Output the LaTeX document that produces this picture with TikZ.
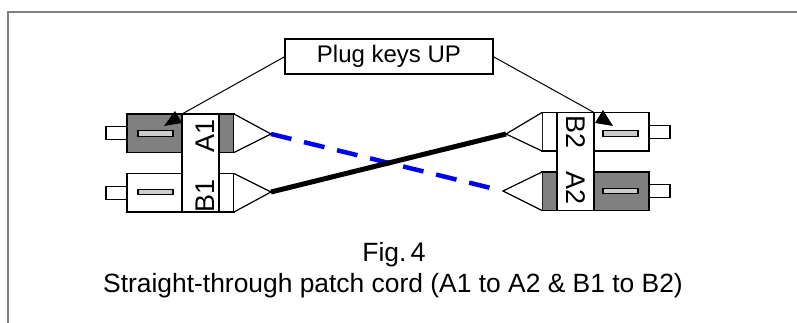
\documentclass[tikz,border=0pt]{standalone}
\usepackage{fontspec}
\setmainfont{Liberation Sans}
\usepackage{xcolor}
\usetikzlibrary{arrows.meta, positioning}
\definecolor{framegray}{gray}{0.5}
\definecolor{keygray}{gray}{0.5}
\definecolor{slotgray}{gray}{0.8}
\definecolor{cordblue}{rgb}{0,0,0.95}

\begin{document}
\begin{tikzpicture}[
        x=1pt, y=-1pt,
        node distance=0pt and 0pt,
        part/.style={rectangle, draw, inner sep=0pt, outer sep=0pt, line width=1.2pt},
        body/.style={part, minimum width=55pt, minimum height=38.5pt},
        pin/.style={part, minimum width=21pt, minimum height=13pt},
        slot/.style={part, fill=slotgray, minimum width=35pt, minimum height=5.5pt},
        sleeve/.style={part, minimum width=15pt, minimum height=38.5pt},
        strip/.style={part, fill=white, minimum width=37pt, minimum height=98pt},
        dark/.style={fill=keygray},
        cone/.style={line width=1.2pt, fill=white, line join=miter},
        tag/.style={inner sep=0pt, font=\fontsize{27}{27}\selectfont},
        txt/.style={inner sep=0pt, font=\fontsize{26.4}{28}\selectfont},
        lead/.style={line width=1pt}
    ]
        \useasboundingbox (0,0) rectangle (797,323);
        \draw[framegray, line width=2.5pt] (8,323) -- (8,12) -- (797,12);

        % left plugs
        \node[strip] (lstrip) at (200.5,163) {};
        \node[body, dark, left=0pt of lstrip.north west, anchor=north east] (la) {};
        \node[body, left=0pt of lstrip.south west, anchor=south east] (lb) {};
        \node[pin, left=of la] (lapin) {};
        \node[pin, left=of lb] (lbpin) {};
        \node[slot] (laslot) at (155.5,133.5) {};
        \node[slot] (lbslot) at (155.5,192) {};
        \node[sleeve, dark, right=0pt of lstrip.north east, anchor=north west] (lasl) {};
        \node[sleeve, right=0pt of lstrip.south east, anchor=south west] (lbsl) {};
        \coordinate (latip) at (271,134);
        \coordinate (lbtip) at (271,192);
        \draw[cone] (lasl.north east) -- (latip) -- (lasl.south east);
        \draw[cone] (lbsl.north east) -- (lbtip) -- (lbsl.south east);
        \node[tag, rotate=90] (a1) at (205,136) {A1};
        \node[tag, rotate=90] (b1) at (205,196) {B1};

        % right plugs
        \node[strip] (rstrip) at (575.5,161.5) {};
        \node[body, right=0pt of rstrip.north east, anchor=north west] (rb) {};
        \node[body, dark, right=0pt of rstrip.south east, anchor=south west] (ra) {};
        \node[pin, right=of rb] (rbpin) {};
        \node[pin, right=of ra] (rapin) {};
        \node[slot] (rbslot) at (620.5,133.5) {};
        \node[slot] (raslot) at (620.5,191) {};
        \node[sleeve, left=0pt of rstrip.north west, anchor=north east] (rbsl) {};
        \node[sleeve, dark, left=0pt of rstrip.south west, anchor=south east] (rasl) {};
        \coordinate (rbtip) at (506,134);
        \coordinate (ratip) at (503,191);
        \draw[cone] (rbsl.north west) -- (rbtip) -- (rbsl.south west);
        \draw[cone] (rasl.north west) -- (ratip) -- (rasl.south west);
        \node[tag, rotate=-90] (b2) at (576,132) {B2};
        \node[tag, rotate=-90] (a2) at (576,188) {A2};

        % cords
        \draw[cordblue, line width=4.5pt, dash pattern=on 21pt off 13pt, shorten >=12pt] (latip) -- (ratip);
        \draw[black, line width=5pt] (lbtip) -- (rbtip);

        % plug key label
        \node[part, minimum width=208pt, minimum height=35pt, font=\fontsize{24}{24}\selectfont] (keys) at (389,56.5) {Plug keys UP};
        \draw[lead] (keys.west) -- (lstrip.north west);
        \draw[lead] (keys.east) -- (rstrip.north east);
        \fill (164,126) -- (175,111) -- (182,123) -- cycle;
        \fill (595,123) -- (603,110) -- (613,126) -- cycle;

        % caption
        \node[txt, anchor=base] (fig) at (394,261) {Fig.\hspace{4pt}\fontsize{27}{28}\selectfont 4};
        \node[txt, anchor=base] (cap) at (393,292) {Straight-through patch cord (A1 to A2 \& B1 to B2)};
    \end{tikzpicture}
\end{document}
